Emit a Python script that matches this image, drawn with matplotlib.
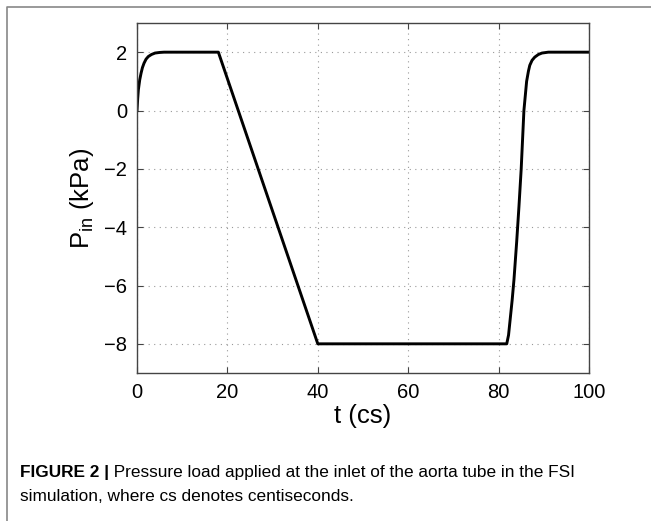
import matplotlib
matplotlib.use("Agg")
import matplotlib.pyplot as plt
from matplotlib.lines import Line2D

# inlet pressure waveform (t in cs, P in kPa)
t_cs = [0, 0.15, 0.3, 0.6, 0.9, 1.2, 1.55, 2.0, 2.5, 3.2, 4.0, 5.0, 6.0,
        18.0, 40.0, 81.8, 82.2, 82.6, 83.0, 83.4, 84.0, 84.5, 85.0, 85.6, 86.2,
        86.6, 86.9, 87.4, 88.0, 88.8, 89.6, 91.0, 100.0]
p_kpa = [0, 0.4, 0.71, 1.05, 1.28, 1.47, 1.62, 1.76, 1.85, 1.92, 1.97, 1.99, 2.0,
         2.0, -8.0, -8.0, -7.7, -7.1, -6.5, -5.8, -4.5, -3.3, -2.0, 0.0, 1.0,
         1.35, 1.55, 1.72, 1.83, 1.92, 1.97, 2.0, 2.0]

x_ticks = [0, 20, 40, 60, 80, 100]
y_ticks = [-8, -6, -4, -2, 0, 2]

caption_head = "FIGURE 2 |"
caption_line1 = " Pressure load applied at the inlet of the aorta tube in the FSI"
caption_line2 = "simulation, where cs denotes centiseconds."

plt.rcParams.update({
    "font.family": "Liberation Sans",
    "mathtext.fontset": "custom",
    "mathtext.rm": "Liberation Sans",
})

fig = plt.figure(figsize=(6.51, 5.21), dpi=100)
ax = fig.add_axes([137 / 651, 1 - 373 / 521, 452 / 651, 350 / 521])

ax.plot(t_cs, p_kpa, color="black", linewidth=2.1, solid_joinstyle="round")
ax.set_xlim(0, 100)
ax.set_ylim(-9, 3)
ax.set_xticks(x_ticks)
ax.set_yticks(y_ticks)
ax.set_yticklabels([f"{v}".replace("-", "\u2212") for v in y_ticks])
ax.tick_params(direction="in", top=True, right=True, length=4, width=0.8,
               color="#444444", labelsize=14.5, pad=7)
for sp in ax.spines.values():
    sp.set_color("#444444")
    sp.set_linewidth(1.0)
ax.grid(True, linestyle=(0, (1, 4)), color="#999999", linewidth=0.8)

ax.set_xlabel("t (cs)", fontsize=18.5, labelpad=2)
ax.set_ylabel(r"P$_\mathregular{in}$ (kPa)", fontsize=18.5, labelpad=6)

# outer panel border (top and left only)
fig.add_artist(Line2D([7 / 651, 7 / 651, 1.0], [0.0, 1 - 7 / 521, 1 - 7 / 521],
                      transform=fig.transFigure, color="#888888", linewidth=1.2))

head = fig.text(20 / 651, 1 - 477 / 521, caption_head, fontsize=12.4,
                fontweight="bold", va="baseline", ha="left")
fig.add_artist(plt.Annotation(caption_line1, xy=(1, 0), xycoords=head,
                              va="bottom", ha="left", fontsize=12.4))
fig.text(20 / 651, 1 - 501 / 521, caption_line2, fontsize=12.4,
         va="baseline", ha="left")

fig.savefig("out.png", dpi=100)
